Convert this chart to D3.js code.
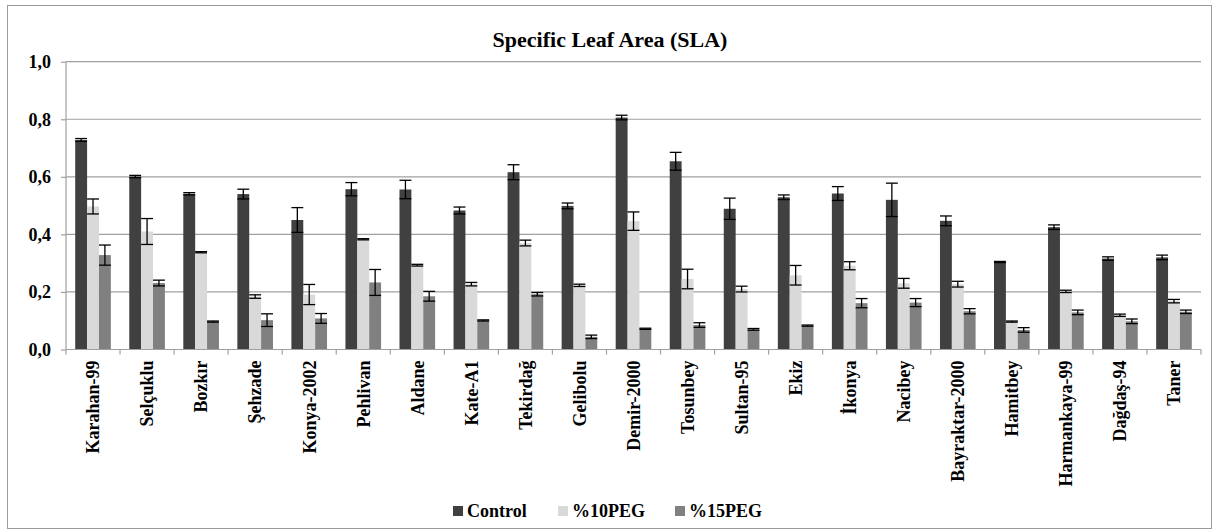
<!DOCTYPE html>
<html>
<head>
<meta charset="utf-8">
<script src="https://cdn.jsdelivr.net/npm/d3@7"></script>
<style>
  html, body { margin: 0; padding: 0; background: #fff; }
  svg { display: block; }
</style>
</head>
<body>
<svg id="chart" width="1213" height="530"></svg>
<script>
const categories = ["Karahan-99","Selçuklu","Bozkır","Şehzade","Konya-2002","Pehlivan","Aldane","Kate-A1","Tekirdağ","Gelibolu","Demir-2000","Tosunbey","Sultan-95","Ekiz","İkonya","Nacibey","Bayraktar-2000","Hamitbey","Harmankaya-99","Dağdaş-94","Taner"];
const seriesNames = ["Control", "%10PEG", "%15PEG"];
const control    = [0.728,0.601,0.541,0.540,0.450,0.557,0.556,0.483,0.616,0.499,0.806,0.654,0.489,0.529,0.542,0.520,0.447,0.304,0.425,0.316,0.320];
const controlErr = [0.005,0.004,0.004,0.017,0.043,0.023,0.032,0.012,0.026,0.010,0.008,0.031,0.037,0.008,0.024,0.058,0.017,0.002,0.008,0.006,0.008];
const peg10      = [0.497,0.410,0.338,0.184,0.191,0.383,0.293,0.227,0.370,0.223,0.446,0.245,0.210,0.258,0.291,0.230,0.227,0.097,0.202,0.119,0.168];
const peg10Err   = [0.026,0.045,0.002,0.006,0.035,0.002,0.003,0.006,0.010,0.004,0.032,0.034,0.010,0.034,0.014,0.017,0.010,0.002,0.004,0.004,0.006];
const peg15      = [0.328,0.231,0.097,0.102,0.108,0.233,0.185,0.101,0.192,0.044,0.072,0.085,0.070,0.083,0.161,0.163,0.133,0.068,0.129,0.098,0.131];
const peg15Err   = [0.035,0.010,0.002,0.022,0.017,0.045,0.017,0.002,0.006,0.006,0.002,0.008,0.003,0.002,0.016,0.014,0.009,0.008,0.008,0.008,0.006];
const yTicks = [0, 0.2, 0.4, 0.6, 0.8, 1.0];
const colors = ["#404040", "#d9d9d9", "#808080"];

const values = [control, peg10, peg15];
const errors = [controlErr, peg10Err, peg15Err];
const FONT = "'Liberation Serif', 'Times New Roman', 'DejaVu Serif', serif";

const svg = d3.select("#chart");
const plotLeft = 66, plotRight = 1201, plotTop = 61.7, plotBottom = 349.5;

function styleText(sel, size) {
  return sel.attr("font-family", FONT).style("font-family", FONT)
    .attr("font-weight", "bold").style("font-weight", "bold")
    .style("font-size", size + "px").attr("fill", "#000");
}

// outer border
svg.append("rect").attr("x", 7.5).attr("y", 5.5).attr("width", 1204).attr("height", 523)
  .attr("fill", "none").attr("stroke", "#9a9a9a").attr("stroke-width", 1);

const x0 = d3.scaleBand().domain(categories).range([plotLeft, plotRight]).paddingInner(0).paddingOuter(0);
const step = x0.bandwidth();
const bw = step / (3 + 1.55);
const off = (step - 3 * bw) / 2;
const x1 = d3.scaleBand().domain(seriesNames).range([off, off + 3 * bw]).padding(0);
const y = d3.scaleLinear().domain([0, 1]).range([plotBottom, plotTop]);

// gridlines
svg.append("g").selectAll("line").data(yTicks.slice(1)).join("line")
  .attr("x1", plotLeft).attr("x2", plotRight)
  .attr("y1", d => y(d)).attr("y2", d => y(d))
  .attr("stroke", "#a0a0a0").attr("stroke-width", 1.2);

// bars
const groups = svg.append("g").selectAll("g").data(categories).join("g")
  .attr("transform", d => `translate(${x0(d)},0)`);

seriesNames.forEach((s, si) => {
  groups.append("rect")
    .attr("x", x1(s))
    .attr("width", x1.bandwidth())
    .attr("y", (d, i) => y(values[si][i]))
    .attr("height", (d, i) => y(0) - y(values[si][i]))
    .attr("fill", colors[si]);
});

// error bars
seriesNames.forEach((s, si) => {
  const cx = x1(s) + x1.bandwidth() / 2;
  const cap = x1.bandwidth() / 2;
  groups.append("line")
    .attr("x1", cx).attr("x2", cx)
    .attr("y1", (d, i) => y(values[si][i] + errors[si][i]))
    .attr("y2", (d, i) => y(values[si][i] - errors[si][i]))
    .attr("stroke", "#000").attr("stroke-width", 1.3);
  [1, -1].forEach(sign => {
    groups.append("line")
      .attr("x1", cx - cap).attr("x2", cx + cap)
      .attr("y1", (d, i) => y(values[si][i] + sign * errors[si][i]))
      .attr("y2", (d, i) => y(values[si][i] + sign * errors[si][i]))
      .attr("stroke", "#000").attr("stroke-width", 1.3);
  });
});

// y axis
const yAxis = d3.axisLeft(y).tickValues(yTicks).tickSize(5).tickPadding(10)
  .tickFormat(d => d3.format(".1f")(d).replace(".", ","));
const yg = svg.append("g").attr("transform", `translate(${plotLeft},0)`).call(yAxis);
yg.attr("font-family", FONT);
yg.selectAll("path, line").attr("stroke", "#a0a0a0").attr("stroke-width", 1.2);
yg.select(".domain").attr("d", `M0,${plotBottom}V${plotTop}`);
styleText(yg.selectAll("text"), 18);

// x axis baseline + ticks at category boundaries
svg.append("line").attr("x1", plotLeft).attr("x2", plotRight).attr("y1", plotBottom).attr("y2", plotBottom)
  .attr("stroke", "#a0a0a0").attr("stroke-width", 1.2);
const boundaries = categories.map(c => x0(c)).concat([plotRight]);
svg.append("g").selectAll("line").data(boundaries).join("line")
  .attr("x1", d => d).attr("x2", d => d).attr("y1", plotBottom).attr("y2", plotBottom + 5)
  .attr("stroke", "#a0a0a0").attr("stroke-width", 1.2);

// x labels
styleText(svg.append("g").selectAll("text").data(categories).join("text")
  .attr("transform", d => `translate(${x0(d) + step / 2},${plotBottom + 11}) rotate(-90)`)
  .attr("text-anchor", "end").attr("dy", "0.35em")
  .text(d => d), 18);

// title
styleText(svg.append("text").attr("x", 610).attr("y", 47).attr("text-anchor", "middle")
  .text("Specific Leaf Area (SLA)"), 22);

// legend
const legendX = [453, 558, 675];
seriesNames.forEach((s, si) => {
  svg.append("rect").attr("x", legendX[si]).attr("y", 506).attr("width", 10).attr("height", 10)
    .attr("fill", colors[si]);
  styleText(svg.append("text").attr("x", legendX[si] + 14).attr("y", 517).text(s), 18);
});
</script>
</body>
</html>
